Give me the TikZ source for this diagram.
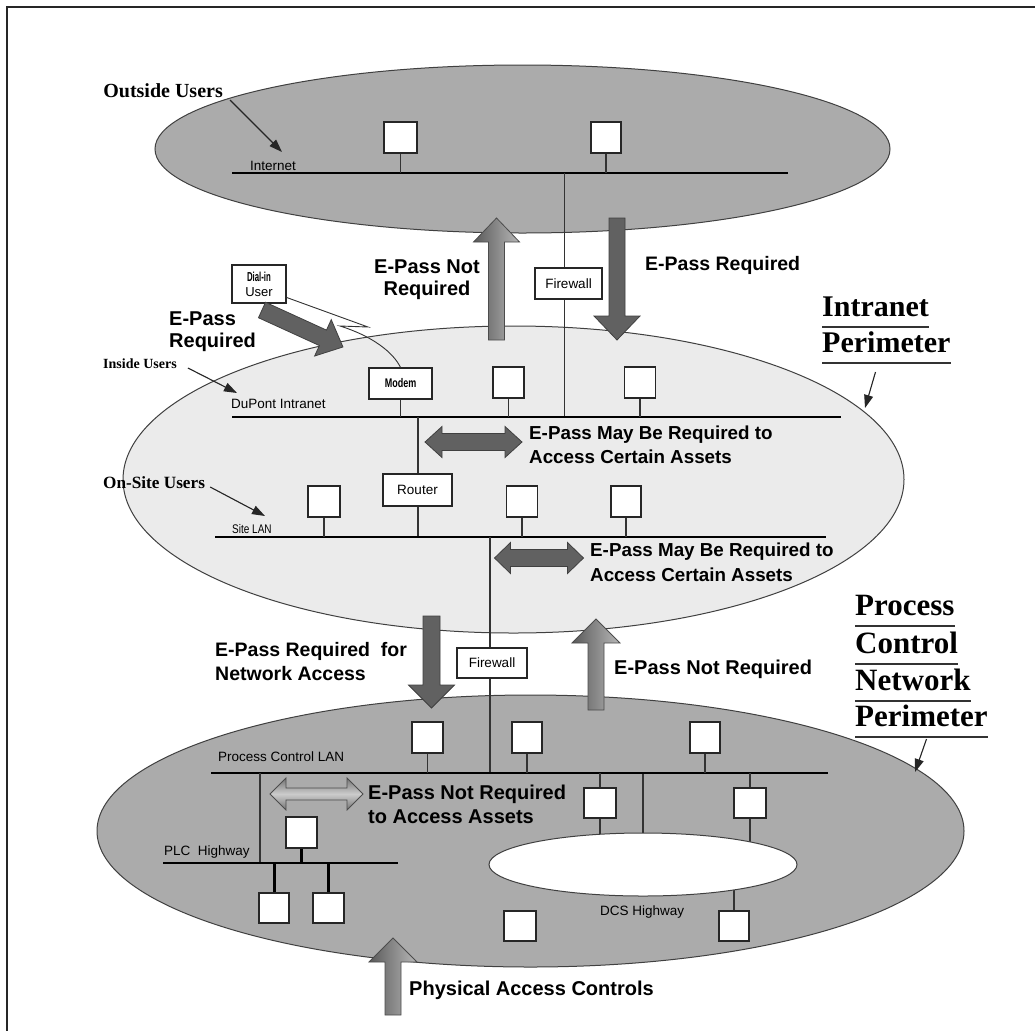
\documentclass[tikz,border=0pt]{standalone}
\usepackage{fontspec}
\setmainfont{Liberation Sans}
\newfontfamily\tnr{Liberation Serif}
\usetikzlibrary{arrows.meta}

% vertical block arrow: style, x, y of tip, y of head base, y of tail, shaft width, head width
\newcommand\vblock[7]{\path[#1] (#2-#6/2,#5) -- (#2-#6/2,#4) -- (#2-#7/2,#4) -- (#2,#3) -- (#2+#7/2,#4) -- (#2+#6/2,#4) -- (#2+#6/2,#5) -- cycle;}
% horizontal double block arrow: style, x left, x right, y centre, shaft height, head height, head length
\newcommand\hdouble[7]{\path[#1] (#2,#4) -- (#2+#7,#4-#6/2) -- (#2+#7,#4-#5/2) -- (#3-#7,#4-#5/2) -- (#3-#7,#4-#6/2) -- (#3,#4) -- (#3-#7,#4+#6/2) -- (#3-#7,#4+#5/2) -- (#2+#7,#4+#5/2) -- (#2+#7,#4+#6/2) -- cycle;}

\begin{document}
\begin{tikzpicture}[x=1pt,y=-1pt,
  frameline/.style={line width=2.2pt, draw=black!85},
  zone/.style={draw=black!75, line width=1pt},
  bus/.style={line width=2.6pt, draw=black},
  link/.style={line width=1.3pt, draw=black!80},
  thinlink/.style={line width=0.9pt, draw=black!80},
  heavylink/.style={line width=3pt, draw=black},
  dev/.style={draw=black!85, fill=white, line width=1.2pt, inner sep=0pt,
    minimum width=31pt, minimum height=31pt},
  tag/.style={dev, font=\fontsize{13.5}{15}\selectfont},
  net/.style={font=\fontsize{13.5}{15}\selectfont, inner sep=0pt},
  bold/.style={font=\fontsize{#1}{24}\selectfont\bfseries, inner sep=0pt},
  bold/.default=19.5,
  serif/.style={font=\fontsize{#1}{#1}\selectfont\tnr\bfseries, inner sep=0pt},
  ptr/.style={-{Triangle[length=13pt,width=9pt]}, line width=1.1pt, draw=black!85, fill=black!85},
  darkarrow/.style={fill=black!62, draw=black!75, line width=0.8pt},
  lightarrow/.style={left color=black!65, right color=black!28, draw=black!70, line width=0.8pt},
  softarrow/.style={top color=black!55, bottom color=black!55, middle color=black!20, draw=black!70, line width=0.8pt},
  rulel/.style={line width=1.2pt, draw=black!80}
]
\useasboundingbox (0,0) rectangle (1035,1031);
\fill[white] (0,0) rectangle (1035,1031);

% outer frame (top and left edges)
\draw[frameline] (1035,7) -- (7,7) -- (7,1031);

% ---------------- zones ----------------
\path[zone, fill=black!33] (522.5,149) ellipse [x radius=367.5pt, y radius=84pt];
\path[zone, fill=black!8]  (513.5,479.5) ellipse [x radius=390.5pt, y radius=153.5pt];
\path[zone, fill=black!33] (530.5,831) ellipse [x radius=433.5pt, y radius=136pt];

% ---------------- Internet ----------------
\coordinate (inetL) at (232,173);
\coordinate (inetR) at (788,173);
\draw[bus] (inetL) -- (inetR);
\node[net, anchor=base west] (inetlbl) at (250,170) {Internet};
\node[dev, minimum width=33pt] (i1) at (400.5,137.5) {};
\node[dev, minimum width=30pt] (i2) at (606,137.5) {};
\draw[link] (i1.south) -- (i1.south |- inetL);
\draw[link] (i2.south) -- (i2.south |- inetL);

\node[serif=20, anchor=base east] (outside) at (223,97) {Outside Users};
\coordinate (inetptr) at (282,152);
\draw[ptr] ([shift={(7pt,-3pt)}]outside.base east) -- (inetptr);

% ---------------- DuPont intranet ----------------
\coordinate (dupL) at (232,417);
\coordinate (dupR) at (841,417);

% firewall between Internet and intranet
\coordinate (fwA) at (564.5,173);
\coordinate (fwB) at (564.5,417);
\draw[link] (fwA) -- (fwB);
\node[tag, minimum width=67pt] (fw1) at (568.5,283.5) {Firewall};

\draw[bus] (dupL) -- (dupR);
\node[net, anchor=base west] (duplbl) at (231,408) {DuPont Intranet};
\node[dev, minimum width=63pt, font=\fontsize{12.5}{14}\selectfont\bfseries] (modem) at (400.5,383.5) {\scalebox{0.72}[1]{Modem}};
\node[dev] (d1) at (508.5,382.5) {};
\node[dev] (d2) at (640,382.5) {};
\draw[link] (modem.south) -- (modem.south |- dupL);
\draw[link] (d1.south) -- (d1.south |- dupL);
\draw[link] (d2.south) -- (d2.south |- dupL);

\node[serif=14, anchor=base west] (inside) at (103,368) {Inside Users};
\coordinate (dupptr) at (237,393);
\draw[ptr] ([shift={(11pt,0pt)}]inside.base east) -- (dupptr);

% dial-in user and its link to the modem
\node[dev, minimum width=54pt, minimum height=38pt, align=center,
  font=\fontsize{13}{15}\selectfont] (dialin) at (259,284) {\scalebox{0.6}[1]{\bfseries Dial-in}\\User};
\draw[thinlink] (dialin.-26) -- (368,327) -- (340,326) .. controls (372,336) and (393,352) .. (modem.north);

% ---------------- site LAN ----------------
\coordinate (siteL) at (215,537);
\coordinate (siteR) at (825.5,537);
\draw[link] (modem.south |- dupL) ++(17.5,0) coordinate (rtA) -- (rtA |- siteL) coordinate (rtB);
\node[tag, minimum width=69pt, minimum height=32pt] (router) at (417.5,490) {Router};

\draw[bus] (siteL) -- (siteR);
\node[net, anchor=base west, font=\fontsize{12.5}{14}\selectfont] (sitelbl) at (232,533) {\scalebox{0.8}[1]{Site LAN}};
\node[dev, minimum width=32pt] (s1) at (324,501.5) {};
\node[dev, minimum width=31pt] (s2) at (522,501.5) {};
\node[dev, minimum width=30pt] (s3) at (626,501.5) {};
\draw[link] (s1.south) -- (s1.south |- siteL);
\draw[link] (s2.south) -- (s2.south |- siteL);
\draw[link] (s3.south) -- (s3.south |- siteL);

\node[serif=17.2, anchor=base west] (onsite) at (103,488) {On-Site Users};
\coordinate (siteptr) at (265,516);
\draw[ptr] ([shift={(5pt,1pt)}]onsite.base east) -- (siteptr);

% ---------------- process control LAN ----------------
\coordinate (pclL) at (211,773);
\coordinate (pclR) at (828,773);
\coordinate (fwC) at (490,537);
\coordinate (fwD) at (490,773);
\draw[link] (fwC) -- (fwD);
\node[tag, minimum width=70pt, minimum height=30pt] (fw2) at (492,663) {Firewall};

% DCS highway ring and the stations tied to it
\coordinate (dcsc) at (643,864.5);
\node[dev, minimum width=32pt, minimum height=30pt] (p4) at (600,803) {};
\node[dev, minimum width=32pt, minimum height=30pt] (p5) at (750,803) {};
\node[dev, minimum width=30pt, minimum height=30pt] (dcs1) at (734,926) {};
\node[dev, minimum width=32pt, minimum height=30pt] (dcs2) at (520,926) {};
\draw[link] (p4.south) -- (p4.south |- dcsc);
\draw[link] (p5.south) -- (p5.south |- dcsc);
\draw[link] (dcs1.north) -- (dcs1.north |- dcsc);
\draw[link] (pclL -| dcsc) -- (dcsc);
\path[zone, fill=white] (dcsc) ellipse [x radius=154pt, y radius=31.5pt];
\node[net, anchor=base west] (dcslbl) at (600,915) {DCS Highway};

\draw[bus] (pclL) -- (pclR);
\node[net, anchor=base west] (pcllbl) at (218,761) {Process Control LAN};
\node[dev] (p1) at (427.5,737.5) {};
\node[dev, minimum width=30pt] (p2) at (527,737.5) {};
\node[dev, minimum width=30pt] (p3) at (705,737.5) {};
\draw[link] (p1.south) -- (p1.south |- pclL);
\draw[link] (p2.south) -- (p2.south |- pclL);
\draw[link] (p3.south) -- (p3.south |- pclL);
\draw[link] (p4.north) -- (p4.north |- pclL);
\draw[link] (p5.north) -- (p5.north |- pclL);

% PLC highway
\coordinate (plcL) at (163,863);
\coordinate (plcR) at (398,863);
\draw[link] (260,773) coordinate (plcA) -- (plcA |- plcL);
\draw[bus] (plcL) -- (plcR);
\node[net, anchor=base west] (plclbl) at (164,855) {PLC\ \ Highway};
\node[dev] (plc0) at (301.5,832.5) {};
\node[dev, minimum width=30pt, minimum height=30pt] (plc1) at (274,908) {};
\node[dev, minimum height=30pt] (plc2) at (328.5,908) {};
\draw[heavylink] (plc0.south) -- (plc0.south |- plcL);
\draw[heavylink] (plc1.north) -- (plc1.north |- plcL);
\draw[heavylink] (plc2.north) -- (plc2.north |- plcL);

% ---------------- block arrows ----------------
\vblock{lightarrow}{496.5}{218}{242}{340}{16}{46}
\vblock{darkarrow}{617}{340}{316}{218}{16}{46}
\begin{scope}[shift={(262,310)}, rotate=-24.55]
  \path[darkarrow] (0,-8.5) -- (67,-8.5) -- (67,-20) -- (89,0) -- (67,20) -- (67,8.5) -- (0,8.5) -- cycle;
\end{scope}
\hdouble{darkarrow}{425}{522}{442}{17}{31}{17}
\hdouble{darkarrow}{494.5}{583.5}{558}{17}{31}{16}
\vblock{darkarrow}{431.5}{708}{685}{616}{17}{46}
\vblock{lightarrow}{596}{619}{643}{710}{16}{48}
\hdouble{softarrow}{270}{363}{794}{12}{32}{16}
\vblock{lightarrow}{393}{938}{962}{1015}{16}{48}

% ---------------- access notes ----------------
\node[bold=20, font=\fontsize{20}{22}\selectfont\bfseries, anchor=north, align=center] (np1) at (427,260) {E-Pass Not\\Required};
\node[bold=19.5, anchor=base west] (rq1) at (645,270) {E-Pass Required};
\node[bold=20, font=\fontsize{20}{22}\selectfont\bfseries, anchor=north west, align=left] (rq2) at (169,312) {E-Pass\\Required};
\node[bold=18.8, anchor=north west, align=left] (may1) at (529,426) {E-Pass May Be Required to\\Access Certain Assets};
\node[bold=18.8, font=\fontsize{18.8}{25}\selectfont\bfseries, anchor=north west, align=left] (may2) at (590,543) {E-Pass May Be Required to\\Access Certain Assets};
\node[bold=19.5, anchor=north west, align=left] (rq3) at (215,642) {E-Pass Required\ \ for\\Network Access};
\node[bold=20, anchor=base west] (np2) at (614,674) {E-Pass Not Required};
\node[bold=20, anchor=north west, align=left] (np3) at (368,785) {E-Pass Not Required\\to Access Assets};
\node[bold=20, anchor=base west] (phys) at (409,995) {Physical Access Controls};

% ---------------- perimeter titles ----------------
\node[serif=30, anchor=base west] (ip1) at (822,316) {Intranet};
\node[serif=30, anchor=base west] (ip2) at (822,352) {Perimeter};
\draw[rulel] ([yshift=-11pt]ip1.base west) -- ([yshift=-11pt]ip1.base east);
\draw[rulel] ([yshift=-11pt]ip2.base west) -- ([yshift=-11pt]ip2.base east);
\coordinate (intraptr) at (865,408);
\draw[ptr] (875.5,372) -- (intraptr);

\node[serif=31, anchor=base west] (pc1) at (855,615) {Process};
\node[serif=31, anchor=base west] (pc2) at (855,653) {Control};
\node[serif=31, anchor=base west] (pc3) at (855,690) {Network};
\node[serif=31, anchor=base west] (pc4) at (855,726) {Perimeter};
\foreach \w in {pc1,pc2,pc3,pc4}
  \draw[rulel] ([yshift=-11pt]\w.base west) -- ([yshift=-11pt]\w.base east);
\coordinate (pcnptr) at (915,772);
\draw[ptr] (926.5,739) -- (pcnptr);

\end{tikzpicture}
\end{document}
